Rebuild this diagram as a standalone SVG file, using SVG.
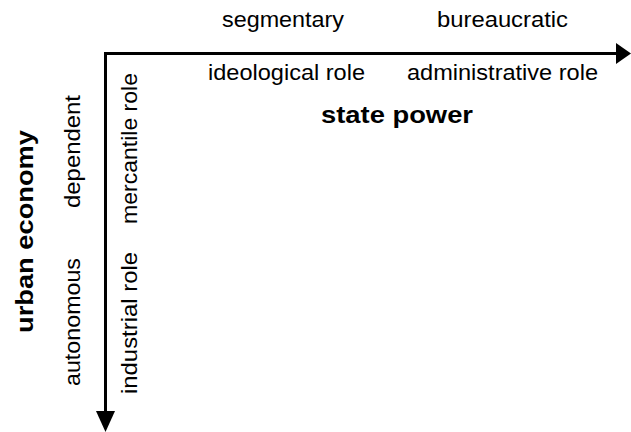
<svg xmlns="http://www.w3.org/2000/svg" width="631" height="432" viewBox="0 0 631 432">
  <style>
    .lbl { font-family: "Liberation Sans", Arial, sans-serif; font-size: 22px; fill: #000; }
    .title { font-family: "Liberation Sans", Arial, sans-serif; font-size: 24px; font-weight: bold; fill: #000; }
    .axis { stroke: #000; stroke-width: 3; fill: none; }
    .head { fill: #000; }
  </style>
  <rect width="631" height="432" fill="#fff"/>

  <!-- the two axes with their arrowheads -->
  <g id="connectors">
    <polyline class="axis" points="105.5,412 105.5,53.5 618,53.5"/>
    <path class="head" d="M616,43 L631,53.5 L616,64 Z"/>
    <path class="head" d="M96,411 L105.5,432 L115,411 Z"/>
  </g>

  <!-- horizontal axis: state power -->
  <g id="state-power">
    <text class="lbl" x="222" y="27" textLength="122" lengthAdjust="spacingAndGlyphs">segmentary</text>
    <text class="lbl" x="437" y="27" textLength="131" lengthAdjust="spacingAndGlyphs">bureaucratic</text>
    <text class="lbl" x="208" y="80" textLength="157" lengthAdjust="spacingAndGlyphs">ideological role</text>
    <text class="lbl" x="407" y="80" textLength="191" lengthAdjust="spacingAndGlyphs">administrative role</text>
    <text class="title" x="321" y="123" textLength="152" lengthAdjust="spacingAndGlyphs">state power</text>
  </g>

  <!-- vertical axis: urban economy -->
  <g id="urban-economy">
    <text class="title" transform="translate(33,333) rotate(-90)" textLength="203" lengthAdjust="spacingAndGlyphs">urban economy</text>
    <text class="lbl" transform="translate(80,208) rotate(-90)" textLength="113" lengthAdjust="spacingAndGlyphs">dependent</text>
    <text class="lbl" transform="translate(80,386) rotate(-90)" textLength="128" lengthAdjust="spacingAndGlyphs">autonomous</text>
    <text class="lbl" transform="translate(137,224) rotate(-90)" textLength="151" lengthAdjust="spacingAndGlyphs">mercantile role</text>
    <text class="lbl" transform="translate(137,394) rotate(-90)" textLength="142" lengthAdjust="spacingAndGlyphs">industrial role</text>
  </g>
</svg>
